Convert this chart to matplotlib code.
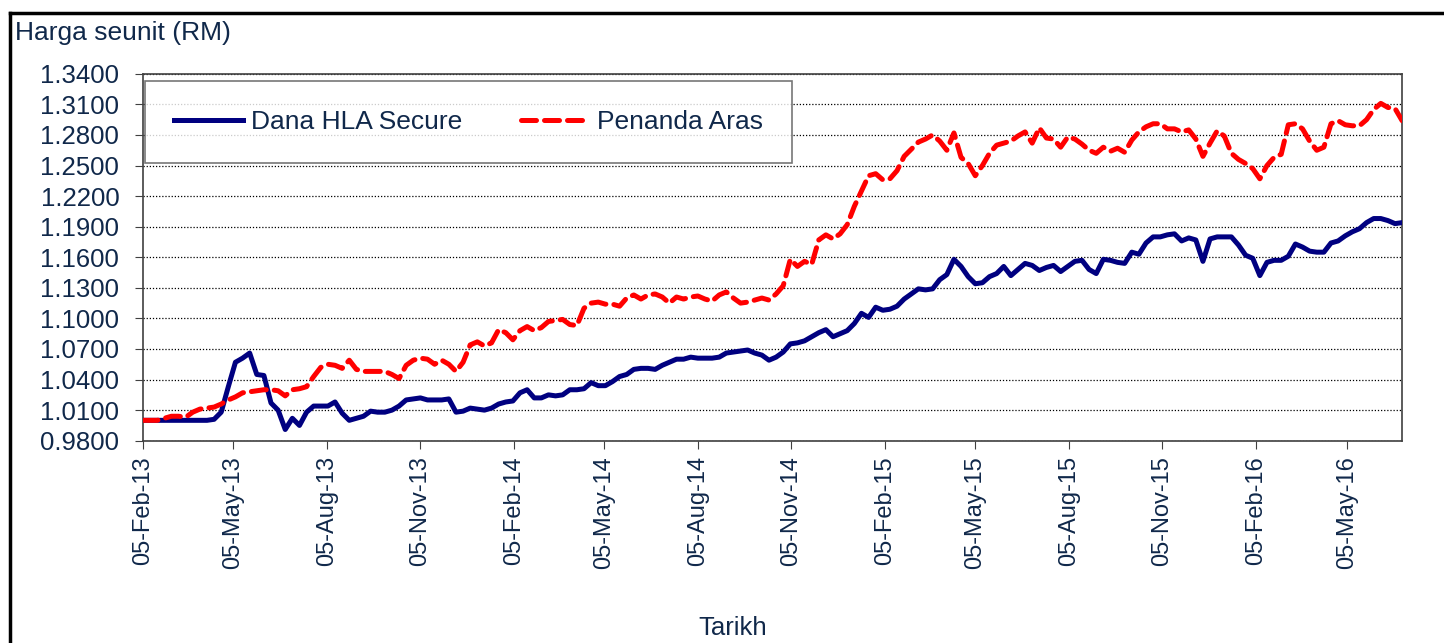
import matplotlib
matplotlib.use('Agg')
import matplotlib.pyplot as plt
import matplotlib.dates as mdates
from matplotlib.lines import Line2D
from matplotlib.ticker import FormatStrFormatter
import pandas as pd

# weekly unit prices, first week 05-Feb-2013
start_date = '2013-02-05'

dana_hla_secure = [
    1.000, 1.000, 1.000, 1.000, 1.000, 1.000, 1.000, 1.000, 1.000, 1.000,
    1.001, 1.008, 1.033, 1.057, 1.061, 1.066, 1.045, 1.044, 1.017, 1.010,
    0.991, 1.002, 0.995, 1.008, 1.014, 1.014, 1.014, 1.018, 1.007, 1.000,
    1.002, 1.004, 1.009, 1.008, 1.008, 1.010, 1.014, 1.020, 1.021, 1.022,
    1.020, 1.020, 1.020, 1.021, 1.008, 1.009, 1.012, 1.011, 1.010, 1.012,
    1.016, 1.018, 1.019, 1.027, 1.030, 1.022, 1.022, 1.025, 1.024, 1.025,
    1.030, 1.030, 1.031, 1.037, 1.034, 1.034, 1.038, 1.043, 1.045, 1.050,
    1.051, 1.051, 1.050, 1.054, 1.057, 1.060, 1.060, 1.062, 1.061, 1.061,
    1.061, 1.062, 1.066, 1.067, 1.068, 1.069, 1.066, 1.064, 1.059, 1.062,
    1.067, 1.075, 1.076, 1.078, 1.082, 1.086, 1.089, 1.082, 1.085, 1.088,
    1.095, 1.105, 1.101, 1.111, 1.108, 1.109, 1.112, 1.119, 1.124, 1.129,
    1.128, 1.129, 1.138, 1.143, 1.158, 1.151, 1.141, 1.134, 1.135, 1.141,
    1.144, 1.151, 1.142, 1.148, 1.154, 1.152, 1.147, 1.150, 1.152, 1.146,
    1.151, 1.156, 1.157, 1.148, 1.144, 1.158, 1.157, 1.155, 1.154, 1.165,
    1.163, 1.174, 1.180, 1.180, 1.182, 1.183, 1.176, 1.179, 1.177, 1.156,
    1.178, 1.180, 1.180, 1.180, 1.172, 1.162, 1.159, 1.142, 1.155, 1.157,
    1.157, 1.161, 1.173, 1.170, 1.166, 1.165, 1.165, 1.174, 1.176, 1.181,
    1.185, 1.188, 1.194, 1.198, 1.198, 1.196, 1.193, 1.194,
]

penanda_aras = [
    1.000, 1.000, 1.000, 1.002, 1.004, 1.004, 1.003, 1.008, 1.011, 1.012,
    1.013, 1.016, 1.020, 1.023, 1.027, 1.028, 1.029, 1.030, 1.030, 1.029,
    1.024, 1.030, 1.031, 1.033, 1.043, 1.052, 1.055, 1.054, 1.051, 1.059,
    1.050, 1.048, 1.048, 1.048, 1.048, 1.045, 1.041, 1.054, 1.059, 1.061,
    1.060, 1.055, 1.059, 1.055, 1.048, 1.057, 1.074, 1.077, 1.073, 1.076,
    1.089, 1.086, 1.079, 1.088, 1.092, 1.088, 1.091, 1.097, 1.098, 1.099,
    1.094, 1.093, 1.110, 1.115, 1.116, 1.114, 1.114, 1.112, 1.120, 1.123,
    1.119, 1.123, 1.124, 1.121, 1.115, 1.121, 1.119, 1.121, 1.122, 1.119,
    1.117, 1.123, 1.126, 1.120, 1.115, 1.116, 1.118, 1.120, 1.118, 1.124,
    1.132, 1.158, 1.151, 1.156, 1.153, 1.177, 1.182, 1.178, 1.183, 1.192,
    1.210, 1.225, 1.240, 1.242, 1.236, 1.237, 1.245, 1.259, 1.266, 1.273,
    1.276, 1.280, 1.274, 1.265, 1.282, 1.258, 1.252, 1.240, 1.250, 1.262,
    1.270, 1.272, 1.274, 1.279, 1.283, 1.272, 1.287, 1.277, 1.276, 1.268,
    1.278, 1.276, 1.271, 1.265, 1.262, 1.268, 1.264, 1.267, 1.263, 1.275,
    1.283, 1.288, 1.291, 1.291, 1.286, 1.286, 1.283, 1.285, 1.276, 1.259,
    1.272, 1.284, 1.279, 1.262, 1.256, 1.252, 1.247, 1.237, 1.250, 1.258,
    1.261, 1.290, 1.291, 1.286, 1.274, 1.265, 1.268, 1.291, 1.294, 1.290,
    1.289, 1.289, 1.295, 1.305, 1.311, 1.307, 1.306, 1.294,
]

y_ticks = [0.98, 1.01, 1.04, 1.07, 1.10, 1.13, 1.16, 1.19, 1.22, 1.25, 1.28, 1.31, 1.34]
x_tick_dates = ['2013-02-05', '2013-05-05', '2013-08-05', '2013-11-05',
                '2014-02-05', '2014-05-05', '2014-08-05', '2014-11-05',
                '2015-02-05', '2015-05-05', '2015-08-05', '2015-11-05',
                '2016-02-05', '2016-05-05']

text_col = '#10284a'
plt.rcParams['font.family'] = ['Liberation Sans', 'DejaVu Sans']

dates = pd.date_range(start_date, periods=len(dana_hla_secure), freq='7D')

fig = plt.figure(figsize=(14.44, 6.43), dpi=100)
ax = fig.add_axes([0.099, 0.3146, 0.872, 0.5706])

ax.plot(dates, dana_hla_secure, color='#000080', lw=3.6, label='Dana HLA Secure',
        solid_joinstyle='round', zorder=3)
ax.plot(dates, penanda_aras, color='#ff0000', lw=3.6, label='Penanda Aras',
        dashes=(3, 1.6), dash_capstyle='round', zorder=3)

ax.set_ylim(0.98, 1.34)
ax.set_xlim(dates[0], dates[-1])
ax.set_yticks(y_ticks)
ax.yaxis.set_major_formatter(FormatStrFormatter('%.4f'))
ax.set_xticks(pd.to_datetime(x_tick_dates))
ax.xaxis.set_major_formatter(mdates.DateFormatter('%d-%b-%y'))

ax.grid(axis='y', color='black', linestyle=(0, (1, 1.5)), lw=0.9)
for s in ax.spines.values():
    s.set_color('#404040')
    s.set_linewidth(1.2)

ax.tick_params(axis='y', direction='out', length=6, color='#404040',
               labelsize=18.5, labelcolor=text_col, pad=11)
ax.tick_params(axis='x', direction='out', length=6, color='#404040',
               labelsize=17, labelcolor=text_col, pad=5, labelrotation=90)

leg = ax.legend(loc='upper left', bbox_to_anchor=(0.0016, 0.981, 0.514, 0.0),
                mode='expand', ncol=2, fontsize=19, frameon=True, fancybox=False,
                borderpad=1.1, handlelength=2.6, handletextpad=0.3,
                borderaxespad=0)
leg.get_frame().set_edgecolor('#555555')
leg.get_frame().set_linewidth(1.2)
for t in leg.get_texts():
    t.set_color(text_col)

fig.text(15 / 1444, 1 - 33 / 643, 'Harga seunit (RM)', fontsize=19,
         color=text_col, va='center', ha='left')
fig.text(733 / 1444, 1 - 628 / 643, 'Tarikh', fontsize=18.5,
         color=text_col, va='center', ha='center')

# outer chart frame (left and top edges)
fig.add_artist(Line2D([10 / 1444, 10 / 1444], [0, 1 - 13 / 643],
                      transform=fig.transFigure, color='black', lw=2.5))
fig.add_artist(Line2D([10 / 1444, 1], [1 - 13 / 643, 1 - 13 / 643],
                      transform=fig.transFigure, color='black', lw=2.5))

fig.savefig('out.png', dpi=100)
